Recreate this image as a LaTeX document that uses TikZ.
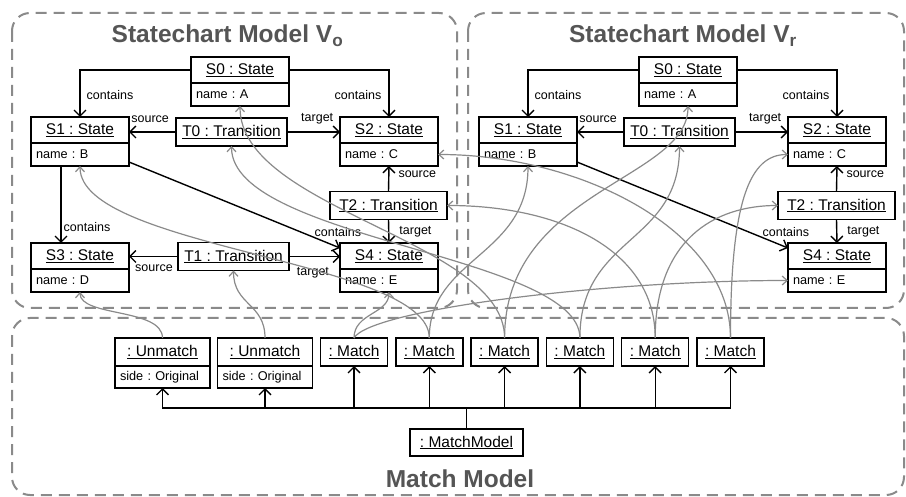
\documentclass[tikz,border=0pt]{standalone}
\usepackage{fontspec}
\setmainfont{Liberation Sans}
\usetikzlibrary{positioning,arrows.meta}
\definecolor{framegray}{HTML}{8A8A8A}
\definecolor{titlegray}{HTML}{555555}
\frenchspacing
\begin{document}
\begin{tikzpicture}[x=1pt, y=-1pt, line width=1.4pt,
  >={Straight Barb[length=6pt,width=12pt]}]
\tikzstyle{head}=[draw, outer sep=0pt, inner sep=0pt, minimum width=98pt, minimum height=26pt, font=\fontsize{15.5}{18}\selectfont]
\tikzstyle{attr}=[draw, outer sep=0pt, inner xsep=5pt, inner ysep=0pt, text width=88pt, minimum height=23pt, align=left, font=\fontsize{12.7}{15}\selectfont]
\tikzstyle{trans}=[head, minimum height=28pt]
\tikzstyle{matchbox}=[head, minimum width=67pt, minimum height=28pt]
\tikzstyle{lab}=[inner sep=1pt, font=\fontsize{12.5}{14}\selectfont]
\tikzstyle{link}=[->]
\tikzstyle{corr}=[draw=framegray, line width=1.2pt, -{Straight Barb[length=5pt,width=9pt]}]
\tikzstyle{frame}=[draw=framegray, line width=2pt, dash pattern=on 11pt off 7pt, rounded corners=18pt]
\tikzstyle{title}=[anchor=base, text=titlegray, font=\fontsize{24.5}{28}\selectfont\bfseries]
\useasboundingbox (0,0) rectangle (906,497);
\draw[frame] (12,13) rectangle (457,308);
\draw[frame] (468,13) rectangle (904,308);
\draw[frame] (12,318) rectangle (904,495);
\node[title] (tito) at (227.5,43) {Statechart Model V\textsubscript{o}};
\node[title] (titr) at (683,43) {Statechart Model V\textsubscript{r}};
\node[title] (titm) at (460,487) {Match Model};
\foreach \m/\dx in {o/0, r/448} {
  \begin{scope}[xshift=\dx]
    \foreach \place/\s/\v in {{(240,70)/S0/A},
                              {(80,130)/S1/B},
                              {(389,130)/S2/C},
                              {(389,256)/S4/E}}
      {\node[head] (\s\m) at \place {\underline{\s\ : State}};
       \node[attr, below=0pt of \s\m] (\s\m a) {name : \v};}
    \foreach \place/\t/\w in {{(231.5,132)/T0/111},
                              {(388.5,205.5)/T2/117}}
      \node[trans, minimum width=\w] (\t\m) at \place {\underline{\t\ : Transition}};
  \end{scope}
  \draw[link] (S0\m.west) -| (S1\m.north) node[lab, pos=0.77, right=5pt] {contains};
  \draw[link] (S0\m.east) -| (S2\m.north) node[lab, pos=0.77, left=6pt] {contains};
  \draw[link] (T0\m.west) -- (T0\m.west -| S1\m.east) node[lab, pos=0.55, above=8pt] {source};
  \draw[link] (T0\m.east) -- (T0\m.east -| S2\m.west) node[lab, pos=0.57, above=6pt] {target};
  \draw[link] ([yshift=4pt]S1\m a.south east) -- ([yshift=-5pt]S4\m.north west) node[lab, pos=0.99, above=9pt] {contains};
  \draw[link] (T2\m.north) -- (S2\m a.south) node[lab, pos=0.68, right=8pt] {source};
  \draw[link] (T2\m.south) -- (S4\m.north) node[lab, pos=0.54, right=9pt] {target};
}
\node[head] (S3o) at (80,256) {\underline{S3 : State}};
\node[attr, below=0pt of S3o] (S3oa) {name : D};
\node[trans, minimum width=111] (T1o) at (233.5,256.5) {\underline{T1 : Transition}};
\draw[link] ([xshift=-19pt]S1oa.south) -- ([xshift=-19pt]S3o.north) node[lab, pos=0.79, right=1pt] {contains};
\draw[link] (T1o.west) -- (T1o.west -| S3o.east) node[lab, pos=0.49, below=7pt] {source};
\draw[link] (T1o.east) -- (T1o.east -| S4o.west) node[lab, pos=0.47, below=9pt] {target};
\foreach \place/\name in {{(162.5,352)/u1},
                          {(265,352)/u2}}
  {\node[head, minimum width=95pt, minimum height=28pt] (\name) at \place {\underline{: Unmatch}};
   \node[attr, text width=85pt, minimum height=22pt, below=0pt of \name] (\name a) {side : Original};}
\foreach \i in {1,...,6}
  \node[matchbox] (m\i) at ({354+75.3*(\i-1)},352) {\underline{: Match}};
\node[head, minimum width=113pt, minimum height=27pt] (mm) at (466.5,442.5) {\underline{: MatchModel}};
\coordinate (bus) at (466.5,408);
\foreach \t in {u1a,u2a,m1,m2,m3,m4,m5,m6}
  \draw[link] (mm.north) -- (bus) -| (\t.south);
\draw[corr] (u1.north) .. controls +(0,-30) and +(0,25) .. (S3oa.south);
\draw[corr] (u2.north) .. controls +(0,-35) and +(0,35) .. (T1o.south);
\draw[corr] (m1.north) .. controls +(0,-25) and +(0,22) .. (S4oa.south);
\draw[corr] (m1.north) .. controls +(16,-28) and +(-188,0) .. (S4ra.west);
\draw[corr] (m2.north) .. controls +(0,-78) and +(0,83) .. (S1oa.south);
\draw[corr] (m2.north) .. controls +(0,-80) and +(0,90) .. (S1ra.south);
\draw[corr] (m3.north) .. controls +(0,-98) and +(0,104) .. (S0oa.south);
\draw[corr] (m3.north) .. controls +(0,-148) and +(0,74) .. (S0ra.south);
\draw[corr] (m4.north) .. controls +(0,-83) and +(0,94) .. (T0o.south);
\draw[corr] (m4.north) .. controls +(0,-103) and +(0,99) .. (T0r.south);
\draw[corr] (m5.north) .. controls +(0,-88) and +(113,0) .. (T2o.east);
\draw[corr] (m5.north) .. controls +(0,-98) and +(-64,0) .. (T2r.west);
\draw[corr] (m6.north) .. controls +(0,-108) and +(142,0) .. (S2oa.east);
\draw[corr] (m6.north) .. controls +(0,-138) and +(-38,0) .. (S2ra.west);
\end{tikzpicture}
\end{document}
